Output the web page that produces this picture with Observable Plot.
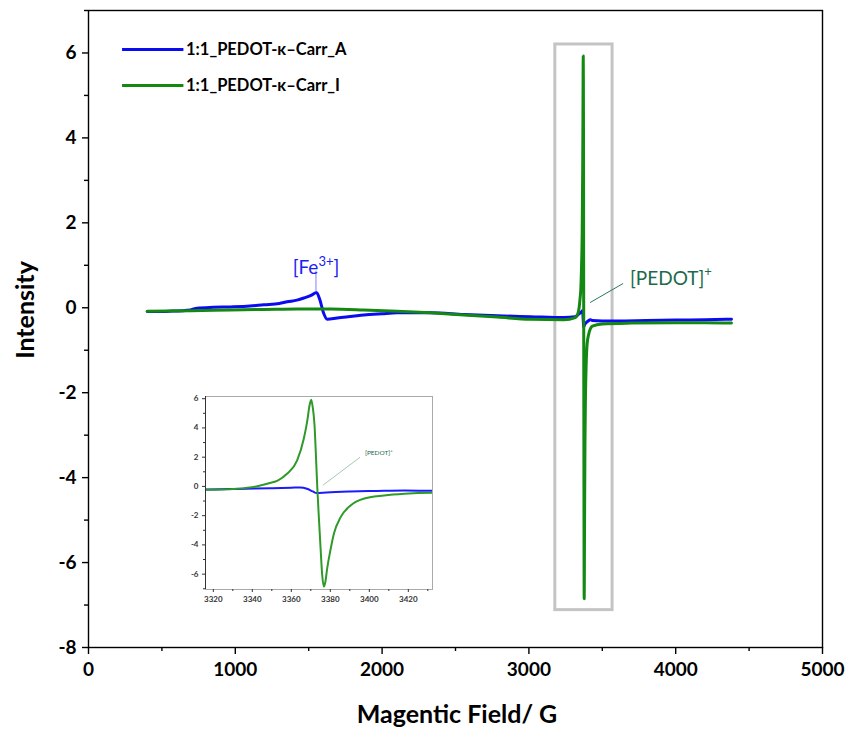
<!DOCTYPE html>
<html><head><meta charset="utf-8">
<script src="https://cdn.jsdelivr.net/npm/d3@7"></script>
<script src="https://cdn.jsdelivr.net/npm/@observablehq/plot@0.6"></script>
<style>
body{margin:0;background:#fff;}
#wrap{position:relative;width:848px;height:730px;font-family:Lato,sans-serif;}
#wrap svg{overflow:visible;}
#inset{position:absolute;left:170px;top:385px;}
</style></head><body><div id="wrap"></div>
<script>
const seriesNames = ["1:1_PEDOT-κ–Carr_A", "1:1_PEDOT-κ–Carr_I"];
const fieldA = [400,550,695,740,850,967,1100,1194,1300,1353,1420,1467,1520,1553,1575,1600,1626,1694,1800,1875,2000,2102,2330,2557,2786,3011,3238,3316,3332,3349,3360,3364.7,3368,3371,3373,3378,3390,3404,3418,3432,3500,3600,3800,4000,4200,4380];
const intensityA = [-0.09,-0.08,-0.05,-0.01,0.01,0.02,0.04,0.07,0.10,0.14,0.18,0.23,0.30,0.36,0.20,-0.11,-0.27,-0.24,-0.20,-0.17,-0.14,-0.12,-0.12,-0.16,-0.19,-0.21,-0.23,-0.21,-0.17,-0.12,-0.09,-0.07,-0.16,-0.34,-0.45,-0.41,-0.35,-0.31,-0.28,-0.30,-0.31,-0.31,-0.30,-0.29,-0.28,-0.27];
const fieldI = [400,700,967,1200,1421,1648,1875,2102,2330,2557,2786,3011,3238,3316,3332,3342,3348,3353,3357.8,3363,3366.4,3368.2,3369.3,3370.2,3371,3371.9,3372.6,3373.3,3374.2,3375,3375.8,3376.7,3377.5,3378.4,3380,3381.9,3385.3,3390.4,3397,3407.6,3418,3432,3500,3700,4000,4200,4380];
const intensityI = [-0.08,-0.07,-0.05,-0.04,-0.03,-0.03,-0.05,-0.08,-0.12,-0.17,-0.22,-0.27,-0.28,-0.23,-0.16,0.0,0.2,0.4,0.87,1.78,3.26,4.5,5.5,5.93,5.4,4.2,2.2,0,-2.3,-4.2,-6.0,-6.85,-6.5,-5.6,-4.4,-3.2,-2.1,-1.3,-0.84,-0.62,-0.5,-0.43,-0.38,-0.36,-0.35,-0.35,-0.36];
const xTicks = [0,1000,2000,3000,4000,5000];
const xMinor = [500,1500,2500,3500,4500];
const yTicks = [-8,-6,-4,-2,0,2,4,6];
const yMinor = [-7,-5,-3,-1,1,3,5,7];
const insetXTicks = [3320,3340,3360,3380,3400,3420];
const insetXMinor = [3330,3350,3370,3390,3410,3430];
const insetYTicks = [-6,-4,-2,0,2,4,6];
const insetYMinor = [-7,-5,-3,-1,1,3,5];

const blue = "#0b0bf2", green = "#138813";
const font = "Lato, 'Open Sans', sans-serif";
const fmt = d => String(d);

const main = Plot.plot({
  width: 848, height: 730,
  marginLeft: 88, marginRight: 26, marginTop: 10, marginBottom: 83,
  x: {domain: [0, 5000]},
  y: {domain: [-8, 7]},
  style: {fontFamily: font, background: "#fff", color: "#000"},
  marks: [
    Plot.rect([0], {x1: 3180, x2: 3570, y1: -7.12, y2: 6.2, fill: "none", stroke: "#c4c4c4", strokeWidth: 3}),
    Plot.line(fieldA, {x: fieldA, y: intensityA, stroke: blue, strokeWidth: 3, curve: "monotone-x"}),
    Plot.line(fieldI, {x: fieldI, y: intensityI, stroke: green, strokeWidth: 3, curve: "monotone-x"}),
    Plot.frame({stroke: "#000", strokeWidth: 1.4}),
    Plot.axisX({ticks: xTicks, tickFormat: fmt, tickSize: 7, tickPadding: 8, fontSize: 19, fontWeight: "bold", label: null, strokeWidth: 1.4}),
    Plot.axisX({ticks: xMinor, tickSize: 4, tickFormat: () => "", label: null, strokeWidth: 1.4}),
    Plot.axisY({ticks: yTicks, tickFormat: fmt, tickSize: 6, tickPadding: 6, fontSize: 19, fontWeight: "bold", label: null, strokeWidth: 1.4}),
    Plot.axisY({ticks: yMinor, tickSize: 4, tickFormat: () => "", label: null, strokeWidth: 1.4})
  ]
});
const wrap = document.getElementById("wrap");
wrap.appendChild(main);

const sx = main.scale("x"), sy = main.scale("y");
const g = d3.select(main).append("g").attr("font-family", font).attr("text-anchor", "start");
// axis titles
g.append("text").attr("x", 457).attr("y", 723).attr("text-anchor", "middle")
  .attr("font-size", 25).attr("font-weight", "bold").text("Magentic Field/ G");
g.append("text").attr("transform", "translate(34,310) rotate(-90)").attr("text-anchor", "middle")
  .attr("font-size", 25).attr("font-weight", "bold").text("Intensity");
// legend
[[6.07, blue], [5.22, green]].forEach(([yv, c], i) => {
  g.append("line").attr("x1", sx.apply(232)).attr("x2", sx.apply(650))
    .attr("y1", sy.apply(yv)).attr("y2", sy.apply(yv)).attr("stroke", c).attr("stroke-width", 3);
  g.append("text").attr("x", sx.apply(668)).attr("y", sy.apply(yv)).attr("dy", "0.35em")
    .attr("font-size", 16.5).attr("font-weight", "bold").text(seriesNames[i]);
});
// Fe annotation
g.append("line").attr("x1", sx.apply(1553)).attr("x2", sx.apply(1553))
  .attr("y1", sy.apply(0.37)).attr("y2", sy.apply(0.86)).attr("stroke", "#8080ff").attr("stroke-width", 1);
const fe = g.append("text").attr("x", sx.apply(1553)).attr("y", sy.apply(0.78)).attr("text-anchor", "middle")
  .attr("font-size", 19).attr("fill", "#2020f0");
fe.append("tspan").text("[Fe");
fe.append("tspan").attr("font-size", 13).attr("dy", -8).text("3+");
fe.append("tspan").attr("dy", 8).text("]");
// PEDOT annotation
g.append("line").attr("x1", sx.apply(3420)).attr("x2", sx.apply(3645))
  .attr("y1", sy.apply(0.11)).attr("y2", sy.apply(0.56)).attr("stroke", "#2a7a5a").attr("stroke-width", 1);
const pe = g.append("text").attr("x", sx.apply(3692)).attr("y", sy.apply(0.52))
  .attr("font-size", 19).attr("fill", "#1d6a4a");
pe.append("tspan").text("[PEDOT]");
pe.append("tspan").attr("font-size", 13).attr("dy", -9).text("+");

// inset
const inset = Plot.plot({
  width: 270, height: 230,
  marginLeft: 35, marginRight: 8, marginTop: 11, marginBottom: 26,
  x: {domain: [3316, 3432.4]},
  y: {domain: [-7.05, 6.15]},
  clip: true,
  style: {fontFamily: font, background: "#fff", color: "#333"},
  marks: [
    Plot.line(fieldA, {x: fieldA, y: intensityA, stroke: "#1a1aff", strokeWidth: 2, curve: "monotone-x", clip: true}),
    Plot.line(fieldI, {x: fieldI, y: intensityI, stroke: "#2f9a2a", strokeWidth: 2, curve: "monotone-x", clip: true}),
    Plot.frame({stroke: "#aaa", strokeWidth: 1}),
    Plot.axisX({ticks: insetXTicks, tickFormat: fmt, tickSize: 3, tickPadding: 4, fontSize: 8, fontWeight: "bold", label: null, stroke: "#333"}),
    Plot.axisX({ticks: insetXMinor, tickSize: 2, tickFormat: () => "", label: null, stroke: "#333"}),
    Plot.axisY({ticks: insetYTicks, tickFormat: fmt, tickSize: 3, tickPadding: 4, fontSize: 8, fontWeight: "bold", label: null, stroke: "#333"}),
    Plot.axisY({ticks: insetYMinor, tickSize: 2, tickFormat: () => "", label: null, stroke: "#333"}),
    Plot.ruleY([-7.05], {stroke: "#333", strokeWidth: 1}),
    Plot.ruleX([3316], {stroke: "#333", strokeWidth: 1})
  ]
});
inset.id = "inset";
wrap.appendChild(inset);
const ix = inset.scale("x"), iy = inset.scale("y");
const ig = d3.select(inset).append("g").attr("font-family", font).attr("text-anchor", "start");
ig.append("line").attr("x1", ix.apply(3376.5)).attr("x2", ix.apply(3395.5))
  .attr("y1", iy.apply(0.05)).attr("y2", iy.apply(1.96)).attr("stroke", "#a8c8b0").attr("stroke-width", 1);
const ip = ig.append("text").attr("x", ix.apply(3398)).attr("y", iy.apply(2.1))
  .attr("font-size", 6.5).attr("fill", "#1d6a4a");
ip.append("tspan").text("[PEDOT]");
ip.append("tspan").attr("font-size", 4.5).attr("dy", -3).text("+");
</script></body></html>
